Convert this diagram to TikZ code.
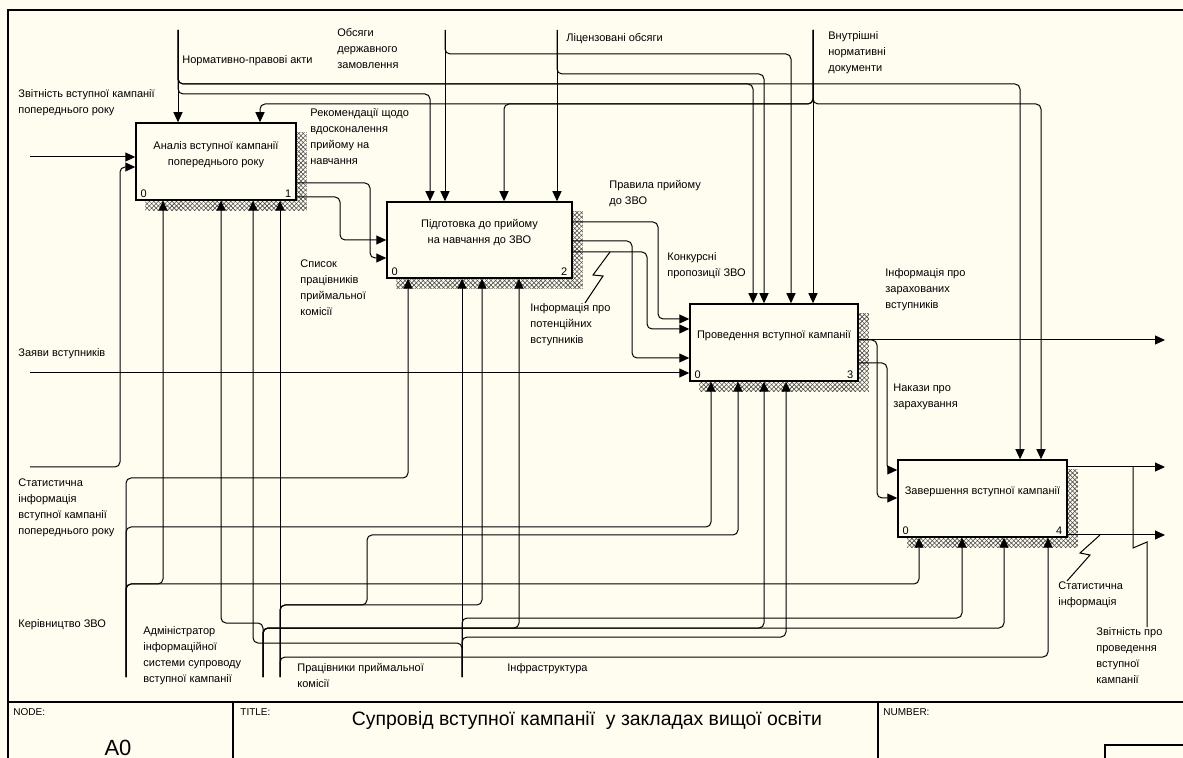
\documentclass[tikz,border=0pt]{standalone}
\usepackage{fontspec}
\setmainfont{Liberation Sans}
\usetikzlibrary{arrows.meta,patterns.meta,backgrounds}
\definecolor{sheet}{HTML}{FFFCF0}
\definecolor{shade}{HTML}{4A4A4A}
\newcommand{\lbl}{\fontsize{5.5}{8}\selectfont}
\tikzset{
  fnbox/.style={draw, line width=0.75pt, fill=sheet, inner sep=0pt},
  fntext/.style={align=center, font=\lbl, inner sep=0pt},
  fnnum/.style={font=\lbl, inner xsep=2.5pt, inner ysep=1.5pt},
  arrowlbl/.style={align=left, font=\lbl, inner sep=0pt, anchor=north west},
  flow/.style={draw, line width=0.5pt, rounded corners=2.5pt, -{Triangle[length=5pt,width=4.5pt]}},
  leader/.style={draw, line width=0.5pt},
  frameline/.style={draw, line width=0.75pt},
  blockcap/.style={font=\fontsize{5}{6}\selectfont, inner sep=0pt, anchor=west}
}

\begin{document}
\begin{tikzpicture}[x=0.5pt, y=-0.5pt]
  \useasboundingbox (0,0) rectangle (1183,758);

  % functions
  \node[fnbox, minimum width=80pt, minimum height=38.5pt] (b1) at (216,161.5) {};
  \node[fnbox, minimum width=92.5pt, minimum height=38pt] (b2) at (479.5,240) {};
  \node[fnbox, minimum width=84pt, minimum height=38.5pt] (b3) at (774,342.5) {};
  \node[fnbox, minimum width=84.5pt, minimum height=38.5pt] (b4) at (982.5,498.5) {};
  \node[fntext] (t1) at ([yshift=3.5pt]b1.center) {Аналіз вступної кампанії\\попереднього року};
  \node[fntext] (t2) at ([yshift=3.5pt]b2.center) {Підготовка до прийому\\на навчання до ЗВО};
  \node[fntext] (t3) at ([yshift=3.5pt]b3.center) {Проведення вступної кампанії};
  \node[fntext] (t4) at ([yshift=3.5pt]b4.center) {Завершення вступної кампанії};
  \node[fnnum, anchor=south west] (b1c) at (b1.south west) {0};
  \node[fnnum, anchor=south east] (b1n) at (b1.south east) {1};
  \node[fnnum, anchor=south west] (b2c) at (b2.south west) {0};
  \node[fnnum, anchor=south east] (b2n) at (b2.south east) {2};
  \node[fnnum, anchor=south west] (b3c) at (b3.south west) {0};
  \node[fnnum, anchor=south east] (b3n) at (b3.south east) {3};
  \node[fnnum, anchor=south west] (b4c) at (b4.south west) {0};
  \node[fnnum, anchor=south east] (b4n) at (b4.south east) {4};

  \begin{scope}[on background layer]
    \fill[sheet] (0,0) rectangle (1183,758);
    \foreach \b in {b1,b2,b3,b4}{
      \fill[pattern={Lines[angle=45,distance=1.6pt,line width=0.3pt]}, pattern color=shade]
        ([shift={(5pt,-5pt)}]\b.north west) rectangle ([shift={(5pt,-5pt)}]\b.south east);
      \fill[pattern={Lines[angle=-45,distance=1.6pt,line width=0.3pt]}, pattern color=shade]
        ([shift={(5pt,-5pt)}]\b.north west) rectangle ([shift={(5pt,-5pt)}]\b.south east);
    }
  \end{scope}

  % sheet frame and title block
  \draw[frameline] (8,758) -- (8,10) -- (1183,10);
  \draw[frameline] (8,702) -- (1183,702);
  \draw[frameline] (233,702) -- (233,758);
  \draw[frameline] (878,702) -- (878,758);
  \draw[frameline] (1105,758) -- (1105,745) -- (1183,745);
  \node[blockcap] (capNode) at (13,712) {NODE:};
  \node[blockcap] (capTitle) at (240,712) {TITLE:};
  \node[blockcap] (capNumber) at (883,712) {NUMBER:};
  \node[font=\fontsize{11}{13}\selectfont, inner sep=0pt, anchor=base] (nodeNo) at (118,755) {A0};
  \node[font=\fontsize{9.7}{12}\selectfont, inner sep=0pt, anchor=base] (diagTitle) at (587,725)
    {Супровід вступної кампанії \ у закладах вищої освіти};

  % free ends
  \coordinate (nNorm) at (178,30);
  \coordinate (nObsyag) at (445,30);
  \coordinate (nLicenz) at (557,30);
  \coordinate (nVnutr) at (813,30);
  \coordinate (nZvit) at (30,157);
  \coordinate (nZayavy) at (30,373);
  \coordinate (nStat) at (30,467);
  \coordinate (nKer) at (126,677);
  \coordinate (nAdmin) at (263,677);
  \coordinate (nPrac) at (280,677);
  \coordinate (nInfra) at (462,677);
  \coordinate (oZarah) at (1165,340);
  \coordinate (oZvit) at (1165,467);
  \coordinate (oStat) at (1165,535);

  % controls
  \draw[flow] (nNorm) -- (b1.north -| nNorm);
  \draw[flow] (nNorm) |- (430,94) -- (b2.north -| 430,0);
  \draw[flow] (nNorm) |- (753,84) -- (b3.north -| 753,0);
  \draw[flow] (nNorm) |- (1020,84) -- (b4.north -| 1020,0);
  \draw[flow] (nObsyag) -- (b2.north -| nObsyag);
  \draw[flow] (nObsyag) |- (791,54) -- (b3.north -| 791,0);
  \draw[flow] (nLicenz) -- (b2.north -| nLicenz);
  \draw[flow] (nLicenz) |- (764,74) -- (b3.north -| 764,0);
  \draw[flow] (nVnutr) -- (b3.north -| nVnutr);
  \draw[flow] (nVnutr) |- (260,104) -- (b1.north -| 260,0);
  \draw[flow] (nVnutr) |- (504,104) -- (b2.north -| 504,0);
  \draw[flow] (nVnutr) |- (1041,104) -- (b4.north -| 1041,0);

  % inputs
  \draw[flow] (nZvit) -- (b1.west |- nZvit);
  \draw[flow] (nStat) -| (120,167) -- (b1.west |- 0,167);
  \draw[flow] (nZayavy) -- (b3.west |- nZayavy);

  % outputs
  \draw[flow] (b1.east |- 0,183) -| (370,258) -- (b2.west |- 0,258);
  \draw[flow] (b1.east |- 0,197) -| (340,240) -- (b2.west |- 0,240);
  \draw[flow] (b2.east |- 0,222) -| (658,319) -- (b3.west |- 0,319);
  \draw[flow] (b2.east |- 0,252) -| (647,329) -- (b3.west |- 0,329);
  \draw[flow] (b2.east |- 0,241) -| (632,358) -- (b3.west |- 0,358);
  \draw[flow] (b3.east |- 0,340) -- (oZarah);
  \draw[flow] (b3.east |- 0,340) -| (877,498) -- (b4.west |- 0,498);
  \draw[flow] (b3.east |- 0,363) -| (887,470) -- (b4.west |- 0,470);
  \draw[flow] (b4.east |- 0,467) -- (oZvit);
  \draw[flow] (b4.east |- 0,535) -- (oStat);

  % mechanisms
  \draw[flow] (nKer) |- (163,584) -- (b1.south -| 163,0);
  \draw[flow] (nKer) |- (408,478) -- (b2.south -| 408,0);
  \draw[flow] (nKer) |- (711,527) -- (b3.south -| 711,0);
  \draw[flow] (nKer) |- (919,584) -- (b4.south -| 919,0);
  \draw[flow] (nAdmin) |- (221,623) -- (b1.south -| 221,0);
  \draw[flow] (nAdmin) |- (519,628) -- (b2.south -| 519,0);
  \draw[flow] (nAdmin) |- (764,628) -- (b3.south -| 764,0);
  \draw[flow] (nAdmin) |- (1004,628) -- (b4.south -| 1004,0);
  \draw[flow] (nPrac) -- (b1.south -| nPrac);
  \draw[flow] (nPrac) |- (482,605) -- (b2.south -| 482,0);
  \draw[flow] (nPrac) |- (367,605) |- (738,535) -- (b3.south -| 738,0);
  \draw[flow] (nPrac) |- (1048,657) -- (b4.south -| 1048,0);
  \draw[flow] (nInfra) |- (253,643) -- (b1.south -| 253,0);
  \draw[flow] (nInfra) -- (b2.south -| nInfra);
  \draw[flow] (nInfra) |- (786,637) -- (b3.south -| 786,0);
  \draw[flow] (nInfra) |- (962,618) -- (b4.south -| 962,0);

  % arrow labels
  \node[arrowlbl] (lNorm) at (182,55) {Нормативно-правові акти};
  \node[arrowlbl] (lObsyag) at (337,28) {Обсяги\\державного\\замовлення};
  \node[arrowlbl] (lLicenz) at (566,33) {Ліцензовані обсяги};
  \node[arrowlbl] (lVnutr) at (828,31) {Внутрішні\\нормативні\\документи};
  \node[arrowlbl] (lZvit) at (18,89) {Звітність вступної кампанії\\попереднього року};
  \node[arrowlbl] (lRekom) at (310,108) {Рекомендації щодо\\вдосконалення\\прийому на\\навчання};
  \node[arrowlbl] (lSpysok) at (300,259) {Список\\працівників\\приймальної\\комісії};
  \node[arrowlbl] (lPravyla) at (609,180) {Правила прийому\\до ЗВО};
  \node[arrowlbl] (lKonkurs) at (667,252) {Конкурсні\\пропозиції ЗВО};
  \node[arrowlbl] (lPot) at (530,303) {Інформація про\\потенційних\\вступників};
  \node[arrowlbl] (lZarah) at (885,268) {Інформація про\\зарахованих\\вступників};
  \node[arrowlbl] (lNakazy) at (893,384) {Накази про\\зарахування};
  \node[arrowlbl] (lStat2) at (1058,581) {Статистична\\інформація};
  \node[arrowlbl] (lZvitPro) at (1096,627) {Звітність про\\проведення\\вступної\\кампанії};
  \node[arrowlbl] (lZayavy) at (18,348) {Заяви вступників};
  \node[arrowlbl] (lStat) at (18,478) {Статистична\\інформація\\вступної кампанії\\попереднього року};
  \node[arrowlbl] (lKer) at (18,619) {Керівництво ЗВО};
  \node[arrowlbl] (lAdmin) at (143,626) {Адміністратор\\інформаційної\\системи супроводу\\вступної кампанії};
  \node[arrowlbl] (lPrac) at (297,663) {Працівники приймальної\\комісії};
  \node[arrowlbl] (lInfra) at (507,663) {Інфраструктура};

  % squiggle leaders
  \coordinate (potTap) at (610,252);
  \coordinate (statTap) at (1100,535);
  \coordinate (zvitTap) at (1133,467);
  \draw[leader] (potTap) -- (593,275) -- (603,276) -- (lPot.north -| 585,0);
  \draw[leader] (statTap) -- (1080,553) -- (1090,555) -- (lStat2.north -| 1067,0);
  \draw[leader] (zvitTap) -- (1133,548) -- (1147,542) -- (lZvitPro.north -| 1147,0);
\end{tikzpicture}
\end{document}
